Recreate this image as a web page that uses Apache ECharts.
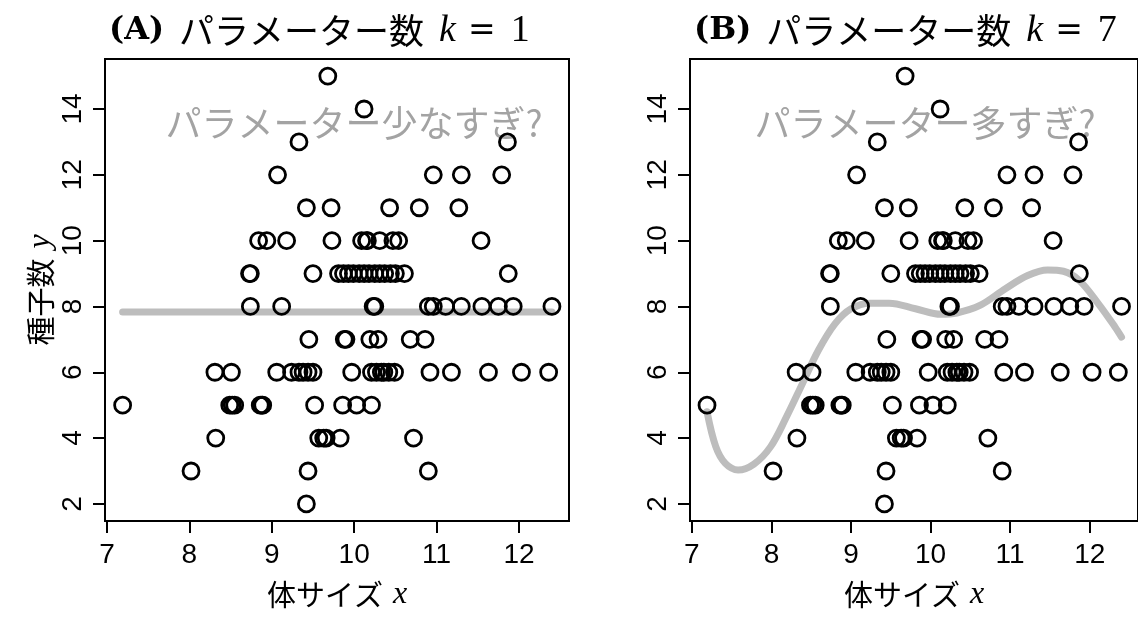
<!DOCTYPE html>
<html>
<head>
<meta charset="utf-8">
<script src="https://cdn.jsdelivr.net/npm/echarts@6/dist/echarts.min.js"></script>
<style>
html,body{margin:0;padding:0;background:#fff;}
#c{width:1138px;height:617px;}
</style>
</head>
<body>
<div id="c"></div>
<script>
// ---- data ----
const bodySize = [
  9.68,
  10.12,
  9.33, 11.86,
  9.07, 10.96, 11.30, 11.79,
  9.42, 9.72, 10.43, 10.79, 11.27,
  8.84, 8.94, 9.18, 9.73, 10.09, 10.15, 10.16, 10.31, 10.47, 10.54, 11.54,
  8.73, 8.74, 9.50, 9.81, 9.87, 9.93, 9.99, 10.06, 10.12, 10.18, 10.25, 10.31, 10.37, 10.44, 10.50, 10.61, 11.87,
  8.74, 9.12, 10.23, 10.25, 10.90, 10.96, 11.11, 11.30, 11.55, 11.75, 11.93, 12.40,
  9.45, 9.88, 9.90, 10.19, 10.29, 10.68, 10.86,
  8.31, 8.51, 9.06, 9.24, 9.33, 9.38, 9.44, 9.50, 9.97, 10.21, 10.27, 10.33, 10.36, 10.42, 10.49, 10.92, 11.18, 11.63, 12.03, 12.36,
  7.19, 8.49, 8.52, 8.55, 8.86, 8.88, 8.89, 9.52, 9.86, 10.03, 10.21,
  8.32, 9.57, 9.63, 9.66, 9.83, 10.72,
  8.02, 9.44, 10.90,
  9.42
];
const seedCount = [
  15,
  14,
  13, 13,
  12, 12, 12, 12,
  11, 11, 11, 11, 11,
  10, 10, 10, 10, 10, 10, 10, 10, 10, 10, 10,
  9, 9, 9, 9, 9, 9, 9, 9, 9, 9, 9, 9, 9, 9, 9, 9, 9,
  8, 8, 8, 8, 8, 8, 8, 8, 8, 8, 8, 8,
  7, 7, 7, 7, 7, 7, 7,
  6, 6, 6, 6, 6, 6, 6, 6, 6, 6, 6, 6, 6, 6, 6, 6, 6, 6, 6, 6,
  5, 5, 5, 5, 5, 5, 5, 5, 5, 5, 5,
  4, 4, 4, 4, 4, 4,
  3, 3, 3,
  2
];
// k = 1 : constant (mean) model
const flatX = [7.19, 12.40];
const flatY = [7.83, 7.83];
// k = 7 : 6th-degree polynomial fit
const curveX = [7.19, 7.30, 7.42, 7.58, 7.78, 7.99, 8.19, 8.39, 8.59, 8.80, 9.00, 9.24, 9.48, 9.81, 10.13, 10.33, 10.62, 10.94, 11.22, 11.47, 11.67, 11.87, 12.11, 12.32, 12.40];
const curveY = [4.80, 3.74, 3.23, 3.03, 3.21, 3.74, 4.65, 5.66, 6.67, 7.48, 7.93, 8.10, 8.10, 7.93, 7.76, 7.80, 8.03, 8.54, 8.94, 9.11, 9.07, 8.79, 8.08, 7.37, 7.07];
const xTicks = [7, 8, 9, 10, 11, 12];
const yTicks = [2, 4, 6, 8, 10, 12, 14];
const xRange = [6.976, 12.607];
const yRange = [1.48, 15.52];
const panelTitles = [['(A)', '1'], ['(B)', '7']];
const panelNotes = ['パラメーター少なすぎ?', 'パラメーター多すぎ?'];

// ---- build ----
const points = bodySize.map((x, i) => [x, seedCount[i]]);
const flat = flatX.map((x, i) => [x, flatY[i]]);
const curve = curveX.map((x, i) => [x, curveY[i]]);

const JP = '"Noto Sans CJK JP", "Noto Sans", sans-serif';
const SANS = '"Liberation Sans", Arial, sans-serif';
const SERIF = '"Liberation Serif", "DejaVu Serif", serif';

const gridLefts = [105, 690];
const grids = gridLefts.map(l => ({
  left: l, top: 59, width: 464, height: 462,
  show: true, borderColor: '#000', borderWidth: 2, backgroundColor: 'transparent'
}));

const nameRich = {
  j: { fontFamily: JP, fontSize: 29, color: '#000', fontWeight: 'normal' },
  s: { fontFamily: JP, fontSize: 10, color: '#000' },
  i: { fontFamily: SERIF, fontStyle: 'italic', fontSize: 32, color: '#000', fontWeight: 'normal' }
};

const xAxes = [0, 1].map(g => ({
  gridIndex: g, type: 'value', min: xRange[0], max: xRange[1],
  splitLine: { show: false },
  axisLine: { show: false, onZero: false },
  axisTick: { show: true, length: 12, inside: false, customValues: xTicks, lineStyle: { color: '#000', width: 2 } },
  axisLabel: { customValues: xTicks, fontSize: 28, fontFamily: SANS, color: '#000', margin: 20 },
  name: '{j|体サイズ}{s|\u3000}{i|x}', nameLocation: 'middle', nameGap: 58,
  nameTextStyle: { rich: nameRich, fontFamily: JP, fontSize: 29, color: '#000' }
}));
const yAxes = [0, 1].map(g => ({
  gridIndex: g, type: 'value', min: yRange[0], max: yRange[1],
  splitLine: { show: false },
  axisLine: { show: false, onZero: false },
  axisTick: { show: true, length: 12, inside: false, customValues: yTicks, lineStyle: { color: '#000', width: 2 } },
  axisLabel: { customValues: yTicks, fontSize: 28, fontFamily: SANS, color: '#000', margin: 18, rotate: 90 },
  name: g === 0 ? '{j|種子数}{s|\u3000}{i|y}' : '', nameLocation: 'middle', nameGap: 48, nameRotate: 90,
  nameTextStyle: { rich: nameRich, fontFamily: JP, fontSize: 29, color: '#000' }
}));

const titleRich = {
  b: { fontFamily: '"DejaVu Serif", serif', fontWeight: 'bold', fontSize: 32, color: '#000' },
  s: { fontFamily: JP, fontSize: 15, color: '#000', fontWeight: 'normal' },
  t: { fontFamily: JP, fontSize: 12, color: '#000', fontWeight: 'normal' },
  j: { fontFamily: JP, fontWeight: 'normal', fontSize: 35, color: '#000' },
  i: { fontFamily: SERIF, fontStyle: 'italic', fontWeight: 'normal', fontSize: 38, color: '#000' },
  e: { fontFamily: '"DejaVu Serif", serif', fontWeight: 'normal', fontSize: 33, color: '#000' },
  r: { fontFamily: SERIF, fontWeight: 'normal', fontSize: 38, color: '#000' }
};
const titles = panelTitles.map((t, g) => ({
  text: `{b|${t[0]}}{s|\u3000}{j|パラメーター数}{s|\u3000}{i|k}{t|\u3000}{e|=}{s|\u3000}{r|${t[1]}}`,
  left: gridLefts[g] - 1, top: 7,
  textStyle: { rich: titleRich, fontWeight: 'normal', fontFamily: JP, fontSize: 34, color: '#000' }
}));

const noteCenters = [354, 925];
const graphics = panelNotes.map((t, g) => ({
  type: 'text', x: noteCenters[g], y: 123, z: 0,
  style: { text: t, fontFamily: JP, fontSize: 36, fill: '#a3a3a3', align: 'center', verticalAlign: 'middle' }
}));

const pointStyle = { color: 'rgba(0,0,0,0)', borderColor: '#000', borderWidth: 2.8, opacity: 1 };
const series = [];
series.push({ type: 'line', xAxisIndex: 0, yAxisIndex: 0, data: flat, showSymbol: false, silent: true, z: 1,
  lineStyle: { color: '#bdbdbd', width: 7, cap: 'round', opacity: 1 } });
series.push({ type: 'line', xAxisIndex: 1, yAxisIndex: 1, data: curve, showSymbol: false, silent: true, z: 1, smooth: 0.35,
  lineStyle: { color: '#bdbdbd', width: 7, cap: 'round', opacity: 1 } });
[0, 1].forEach(g => series.push({
  type: 'scatter', xAxisIndex: g, yAxisIndex: g, data: points, symbol: 'circle', symbolSize: 16, z: 3,
  itemStyle: pointStyle, silent: true
}));

const chart = echarts.init(document.getElementById('c'), null, { renderer: 'canvas' });
chart.setOption({
  animation: false,
  backgroundColor: '#fff',
  title: titles,
  grid: grids,
  xAxis: xAxes,
  yAxis: yAxes,
  graphic: graphics,
  series: series
});
</script>
</body>
</html>
